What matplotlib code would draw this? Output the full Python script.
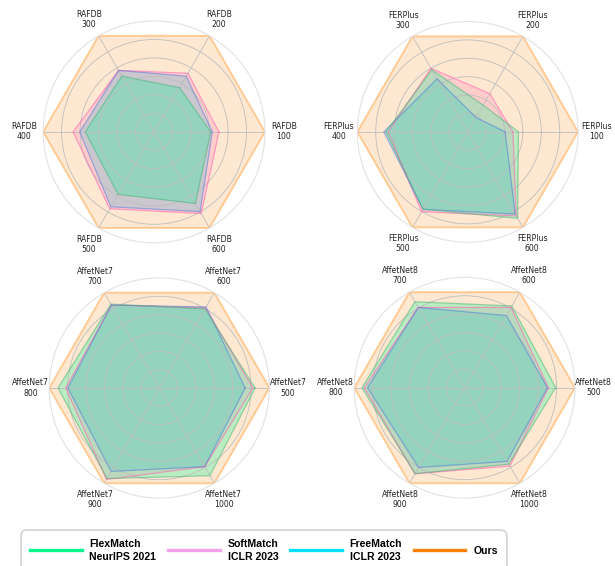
import numpy as np
import matplotlib
matplotlib.use("Agg")
import matplotlib.pyplot as plt
from matplotlib.lines import Line2D

# ---------------- data (normalised radius, Ours = outer ring) ----------------
methods = ["FlexMatch\nNeurIPS 2021", "SoftMatch\nICLR 2023", "FreeMatch\nICLR 2023", "Ours"]

rafdb_labels = ["100", "200", "300", "400", "500", "600"]
rafdb_flex = [0.51, 0.46, 0.58, 0.62, 0.65, 0.745]
rafdb_soft = [0.585, 0.61, 0.64, 0.73, 0.80, 0.85]
rafdb_free = [0.525, 0.58, 0.64, 0.67, 0.78, 0.83]
rafdb_ours = [1.0, 1.0, 1.0, 1.0, 1.0, 1.0]

ferplus_labels = ["100", "200", "300", "400", "500", "600"]
ferplus_flex = [0.46, 0.28, 0.65, 0.74, 0.81, 0.905]
ferplus_soft = [0.41, 0.40, 0.665, 0.72, 0.835, 0.88]
ferplus_free = [0.34, 0.15, 0.555, 0.76, 0.81, 0.86]
ferplus_ours = [1.0, 1.0, 1.0, 1.0, 1.0, 1.0]

affect7_labels = ["500", "600", "700", "800", "900", "1000"]
affect7_flex = [0.87, 0.83, 0.88, 0.92, 0.95, 0.92]
affect7_soft = [0.85, 0.84, 0.87, 0.85, 0.96, 0.825]
affect7_free = [0.78, 0.85, 0.87, 0.83, 0.875, 0.825]
affect7_ours = [1.0, 1.0, 1.0, 1.0, 1.0, 1.0]

affect8_labels = ["500", "600", "700", "800", "900", "1000"]
affect8_flex = [0.825, 0.855, 0.90, 0.93, 0.90, 0.80]
affect8_soft = [0.76, 0.84, 0.84, 0.91, 0.90, 0.82]
affect8_free = [0.75, 0.755, 0.84, 0.88, 0.835, 0.77]
affect8_ours = [1.0, 1.0, 1.0, 1.0, 1.0, 1.0]

panels = [
    ("RAFDB", rafdb_labels, [rafdb_flex, rafdb_soft, rafdb_free, rafdb_ours]),
    ("FERPlus", ferplus_labels, [ferplus_flex, ferplus_soft, ferplus_free, ferplus_ours]),
    ("AffetNet7", affect7_labels, [affect7_flex, affect7_soft, affect7_free, affect7_ours]),
    ("AffetNet8", affect8_labels, [affect8_flex, affect8_soft, affect8_free, affect8_ours]),
]

# ---------------- styles ----------------
fill_colors = ["#00FA9A", "#FF69B4", "#30B4D8", "#FF8C1A"]
fill_alphas = [0.27, 0.2, 0.25, 0.2]
line_colors = ["#3CB371", "#FF69B4", "#4169E1", "#FF9A30"]
line_alphas = [0.5, 0.6, 0.45, 0.45]
line_widths = [0.9, 0.9, 0.9, 1.4]
legend_colors = ["#00F58C", "#F5A0EB", "#00E1FF", "#FF8000"]
draw_order = [3, 1, 2, 0]

fig = plt.figure(figsize=(6.15, 5.66), dpi=100)

boxes = [
    (0.070, 0.571, 0.361, 0.392),
    (0.581, 0.572, 0.359, 0.390),
    (0.080, 0.120, 0.358, 0.389),
    (0.576, 0.120, 0.359, 0.390),
]

for (name, labels, series), box in zip(panels, boxes):
    ax = fig.add_axes(box, projection="polar")
    n = len(labels)
    angles = np.arange(n) * 2 * np.pi / n
    ang_closed = np.concatenate([angles, angles[:1]])
    for i in draw_order:
        vals = np.asarray(series[i], dtype=float)
        v = np.concatenate([vals, vals[:1]])
        ax.fill(ang_closed, v, color=fill_colors[i], alpha=fill_alphas[i], lw=0)
        ax.plot(ang_closed, v, color=line_colors[i], alpha=line_alphas[i], lw=line_widths[i])
    ax.set_ylim(0, 1)
    ax.set_yticks([1 / 6, 2 / 6, 3 / 6, 4 / 6, 5 / 6])
    ax.set_yticklabels([])
    ax.set_xticks(angles)
    ax.set_xticklabels([])
    ax.grid(True, color="#bdbdbd", lw=0.6)
    ax.spines["polar"].set_color("#e2e2e2")
    ax.spines["polar"].set_linewidth(0.8)
    ax.set_facecolor("white")
    for a, lab in zip(angles, labels):
        ax.text(a, 1.17, f"{name}\n{lab}", ha="center", va="center",
                fontsize=5.6, color="#222222", family="DejaVu Sans",
                linespacing=1.15)

handles = [Line2D([0], [0], color=c, lw=2.4) for c in legend_colors]
leg = fig.legend(handles, methods, loc="center", bbox_to_anchor=(0.429, 0.028),
                 ncol=4, frameon=True, fancybox=True, handlelength=4.9,
                 handletextpad=0.75, columnspacing=1.1,
                 prop={"family": "Liberation Sans", "weight": "bold", "size": 7.6},
                 borderpad=0.85)
for t in leg.get_texts():
    t.set_linespacing(1.4)
leg.get_frame().set_edgecolor("#c8c8c8")
leg.get_frame().set_linewidth(1.2)
leg.get_frame().set_boxstyle("round,pad=0,rounding_size=0.6")

fig.savefig("out.png", dpi=100)
